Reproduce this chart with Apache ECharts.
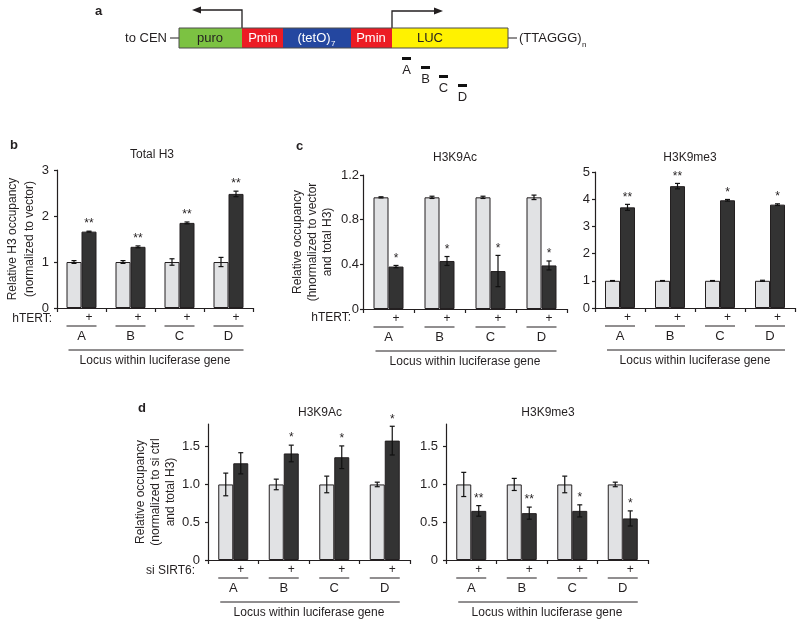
<!DOCTYPE html>
<html><head><meta charset="utf-8">
<script src="https://cdn.jsdelivr.net/npm/echarts@6/dist/echarts.min.js"></script>
<style>html,body{margin:0;padding:0;background:#fff}#c{width:800px;height:624px}</style>
</head><body><div id="c"></div><script>
// ---------- DATA ----------
const loci = ['A', 'B', 'C', 'D'];
// b: Total H3 (vector vs +hTERT)
const bCtrl = [1, 1, 1, 1];
const bCtrlErr = [0.03, 0.03, 0.07, 0.1];
const bTert = [1.66, 1.33, 1.85, 2.48];
const bTertErr = [0.01, 0.02, 0.02, 0.06];
const bSig = ['**', '**', '**', '**'];
// c: H3K9Ac
const cAcCtrl = [1, 1, 1, 1];
const cAcCtrlErr = [0.005, 0.01, 0.01, 0.02];
const cAcTert = [0.38, 0.43, 0.34, 0.39];
const cAcTertErr = [0.01, 0.04, 0.14, 0.04];
const cAcSig = ['*', '*', '*', '*'];
// c: H3K9me3
const cMeCtrl = [1, 1, 1, 1];
const cMeCtrlErr = [0.01, 0.01, 0.01, 0.02];
const cMeTert = [3.7, 4.48, 3.96, 3.8];
const cMeTertErr = [0.11, 0.1, 0.03, 0.03];
const cMeSig = ['**', '**', '*', '*'];
// d: H3K9Ac (si ctrl vs si SIRT6)
const dAcCtrl = [1, 1, 1, 1];
const dAcCtrlErr = [0.15, 0.07, 0.11, 0.03];
const dAcSi = [1.28, 1.41, 1.36, 1.58];
const dAcSiErr = [0.14, 0.11, 0.15, 0.19];
const dAcSig = ['', '*', '*', '*'];
// d: H3K9me3
const dMeCtrl = [1, 1, 1, 1];
const dMeCtrlErr = [0.16, 0.08, 0.11, 0.03];
const dMeSi = [0.65, 0.62, 0.65, 0.55];
const dMeSiErr = [0.07, 0.08, 0.08, 0.1];
const dMeSig = ['**', '**', '*', '*'];
// tick labels
const bTicks = [0, 1, 2, 3];
const cAcTicks = [0, 0.4, 0.8, 1.2];
const cMeTicks = [0, 1, 2, 3, 4, 5];
const dTicks = [0, 0.5, 1, 1.5];

// ---------- STYLE / LAYOUT ----------
const FONT = "'Liberation Sans', Arial, Helvetica, sans-serif";
const TXT = '#231f20';
const LIGHT = '#e1e2e4', DARK = '#333333', EDGE = '#231f20';
const HALF = 7.5;

const panels = [
  {title: 'Total H3', tx: 152, ty: 155, grid: {left: 57, top: 170, width: 196, height: 138},
   max: 3, ticks: bTicks, dec: 0, margin: 8,
   ctrl: bCtrl, ctrlErr: bCtrlErr, trt: bTert, trtErr: bTertErr, sig: bSig,
   yName: 'Relative H3 occupancy\n(normalized to vector)', nameGap: 19, lh: 17},
  {title: 'H3K9Ac', tx: 455, ty: 158, grid: {left: 363, top: 175, width: 204, height: 134},
   max: 1.2, ticks: cAcTicks, dec: 1, margin: 4,
   ctrl: cAcCtrl, ctrlErr: cAcCtrlErr, trt: cAcTert, trtErr: cAcTertErr, sig: cAcSig,
   yName: 'Relative occupancy\n(hnormalized to vector\nand total H3)', nameGap: 28, lh: 15},
  {title: 'H3K9me3', tx: 690, ty: 158, grid: {left: 595, top: 172, width: 200, height: 136},
   max: 5, ticks: cMeTicks, dec: 0, margin: 5,
   ctrl: cMeCtrl, ctrlErr: cMeCtrlErr, trt: cMeTert, trtErr: cMeTertErr, sig: cMeSig,
   yName: '', nameGap: 0, lh: 14},
  {title: 'H3K9Ac', tx: 320, ty: 413, grid: {left: 208, top: 424, width: 202, height: 136},
   max: 1.8, ticks: dTicks, dec: 1, margin: 8,
   ctrl: dAcCtrl, ctrlErr: dAcCtrlErr, trt: dAcSi, trtErr: dAcSiErr, sig: dAcSig,
   yName: 'Relative occupancy\n(normalized to si ctrl\nand total H3)', nameGap: 28, lh: 15},
  {title: 'H3K9me3', tx: 548, ty: 413, grid: {left: 446, top: 424, width: 202, height: 136},
   max: 1.8, ticks: dTicks, dec: 1, margin: 8,
   ctrl: dMeCtrl, ctrlErr: dMeCtrlErr, trt: dMeSi, trtErr: dMeSiErr, sig: dMeSig,
   yName: '', nameGap: 0, lh: 14}
];

function txt(text, x, y, size, align, vAlign, extra) {
  return Object.assign({type: 'text', style: {text: text, x: x, y: y, fontSize: size, fontFamily: FONT,
    fill: TXT, align: align, verticalAlign: vAlign, textAlign: align, textVerticalAlign: vAlign}}, extra || {});
}

function errItem(offset, sig) {
  return function (params, api) {
    const i = api.value(0), v = api.value(1), e = api.value(2);
    const x = api.coord([i, v])[0] + offset;
    const top = api.coord([i, v + e])[1];
    const bot = api.coord([i, v - e])[1];
    const st = {stroke: '#111', lineWidth: 1.2};
    const ch = [
      {type: 'line', shape: {x1: x, y1: top, x2: x, y2: bot}, style: st},
      {type: 'line', shape: {x1: x - 2.5, y1: top, x2: x + 2.5, y2: top}, style: st},
      {type: 'line', shape: {x1: x - 2.5, y1: bot, x2: x + 2.5, y2: bot}, style: st}
    ];
    if (sig && sig[i]) ch.push(txt(sig[i], x, top - 7, 12, 'center', 'middle'));
    return {type: 'group', children: ch};
  };
}

function annotItem() {
  return function (params, api) {
    const i = api.value(0);
    const c = api.coord([i, 0]);
    const ch = [
      txt('+', c[0] + HALF, c[1] + 10, 12, 'center', 'middle'),
      {type: 'line', shape: {x1: c[0] - 15, y1: c[1] + 18, x2: c[0] + 15, y2: c[1] + 18}, style: {stroke: TXT, lineWidth: 1}},
      txt(loci[i], c[0], c[1] + 28, 13, 'center', 'middle')
    ];
    if (i === 0) {
      const last = api.coord([loci.length - 1, 0]);
      ch.push({type: 'line', shape: {x1: c[0] - 13, y1: c[1] + 42, x2: last[0] + 15, y2: c[1] + 42}, style: {stroke: TXT, lineWidth: 1}});
      ch.push(txt('Locus within luciferase gene', (c[0] + last[0]) / 2, c[1] + 53, 12, 'center', 'middle'));
    }
    return {type: 'group', children: ch};
  };
}

const grids = [], xAxes = [], yAxes = [], series = [], graphics = [];
panels.forEach(function (p, k) {
  grids.push(Object.assign({containLabel: false}, p.grid));
  xAxes.push({type: 'category', gridIndex: k, data: loci,
    axisLine: {lineStyle: {color: EDGE, width: 1.2}},
    axisTick: {show: true, length: 4, lineStyle: {color: EDGE, width: 1.2}},
    axisLabel: {show: false}, splitLine: {show: false}});
  yAxes.push({type: 'value', gridIndex: k, min: 0, max: p.max, interval: p.ticks[1] - p.ticks[0],
    axisLine: {show: true, lineStyle: {color: EDGE, width: 1.2}},
    axisTick: {show: true, length: 3, lineStyle: {color: EDGE, width: 1.2}, customValues: p.ticks},
    axisLabel: {show: true, margin: p.margin, fontSize: 13, fontFamily: FONT, color: TXT, customValues: p.ticks,
      formatter: function (v) { return v === 0 ? '0' : v.toFixed(p.dec); }},
    splitLine: {show: false},
    name: p.yName, nameLocation: 'middle', nameRotate: 90, nameGap: p.nameGap,
    nameTextStyle: {fontSize: 12, fontFamily: FONT, color: TXT, lineHeight: p.lh}});
  const common = {xAxisIndex: k, yAxisIndex: k, silent: true, animation: false};
  series.push(Object.assign({type: 'bar', data: p.ctrl, barWidth: 15, barGap: '0%',
    itemStyle: {color: LIGHT, borderColor: EDGE, borderWidth: 1}}, common));
  series.push(Object.assign({type: 'bar', data: p.trt, barWidth: 15, barGap: '0%',
    itemStyle: {color: DARK, borderColor: EDGE, borderWidth: 1}}, common));
  series.push(Object.assign({type: 'custom', z: 5, clip: false, encode: {x: 0, y: 1},
    data: p.ctrl.map(function (v, i) { return [i, v, p.ctrlErr[i]]; }), renderItem: errItem(-HALF, null)}, common));
  series.push(Object.assign({type: 'custom', z: 5, clip: false, encode: {x: 0, y: 1},
    data: p.trt.map(function (v, i) { return [i, v, p.trtErr[i]]; }), renderItem: errItem(HALF, p.sig)}, common));
  series.push(Object.assign({type: 'custom', z: 5, clip: false, encode: {x: 0, y: 1},
    data: loci.map(function (l, i) { return [i, 0]; }), renderItem: annotItem()}, common));
  graphics.push(txt(p.title, p.tx, p.ty, 12, 'center', 'middle'));
});

// panel letters and treatment labels
graphics.push({type: 'text', style: {text: 'a', x: 95, y: 11, font: 'bold 13px ' + FONT, fill: TXT, align: 'left', verticalAlign: 'middle'}});
graphics.push({type: 'text', style: {text: 'b', x: 10, y: 145, font: 'bold 13px ' + FONT, fill: TXT, align: 'left', verticalAlign: 'middle'}});
graphics.push({type: 'text', style: {text: 'c', x: 296, y: 146, font: 'bold 13px ' + FONT, fill: TXT, align: 'left', verticalAlign: 'middle'}});
graphics.push({type: 'text', style: {text: 'd', x: 138, y: 408, font: 'bold 13px ' + FONT, fill: TXT, align: 'left', verticalAlign: 'middle'}});
graphics.push(txt('hTERT:', 52, 319, 12, 'right', 'middle'));
graphics.push(txt('hTERT:', 351, 318, 12, 'right', 'middle'));
graphics.push(txt('si SIRT6:', 195, 571, 12, 'right', 'middle'));

// ---------- panel a schematic ----------
const segs = [
  {t: 'puro', x0: 179, x1: 242, fill: '#7cc242', c: TXT, tx: 210},
  {t: 'Pmin', x0: 242, x1: 283, fill: '#ec1c24', c: '#ffffff', tx: 263},
  {t: '(tetO)', x0: 283, x1: 351, fill: '#2447a0', c: '#ffffff', tx: 314, sub: '7'},
  {t: 'Pmin', x0: 351, x1: 392, fill: '#ec1c24', c: '#ffffff', tx: 371},
  {t: 'LUC', x0: 392, x1: 508, fill: '#fff200', c: TXT, tx: 430}
];
const BY0 = 28, BY1 = 48;
segs.forEach(function (s) {
  graphics.push({type: 'rect', shape: {x: s.x0, y: BY0, width: s.x1 - s.x0, height: BY1 - BY0}, style: {fill: s.fill}});
  graphics.push({type: 'text', z: 10, style: {text: s.t, x: s.tx, y: 38.5, fontSize: 13, fontFamily: FONT, fill: s.c, align: 'center', verticalAlign: 'middle'}});
  if (s.sub) graphics.push({type: 'text', z: 10, style: {text: s.sub, x: s.tx + 17, y: 44, fontSize: 8, fontFamily: FONT, fill: s.c, align: 'left', verticalAlign: 'middle'}});
});
graphics.push({type: 'rect', z: 9, shape: {x: 179, y: BY0, width: 329, height: BY1 - BY0}, style: {fill: 'none', stroke: '#4d4d4d', lineWidth: 1}});
graphics.push({type: 'line', shape: {x1: 170, y1: 38, x2: 179, y2: 38}, style: {stroke: TXT, lineWidth: 1}});
graphics.push({type: 'line', shape: {x1: 508, y1: 38, x2: 517, y2: 38}, style: {stroke: TXT, lineWidth: 1}});
graphics.push(txt('to CEN', 167, 38.5, 13, 'right', 'middle'));
graphics.push(txt('(TTAGGG)', 519, 38.5, 13, 'left', 'middle'));
graphics.push(txt('n', 582, 45, 8, 'left', 'middle'));
// promoter arrows
graphics.push({type: 'polyline', shape: {points: [[242, BY0], [242, 10], [199, 10]]}, style: {stroke: TXT, lineWidth: 1.3, fill: 'none'}});
graphics.push({type: 'polygon', shape: {points: [[192, 10], [201, 6.5], [201, 13.5]]}, style: {fill: TXT}});
graphics.push({type: 'polyline', shape: {points: [[392, BY0], [392, 11], [435, 11]]}, style: {stroke: TXT, lineWidth: 1.3, fill: 'none'}});
graphics.push({type: 'polygon', shape: {points: [[443, 11], [434, 7.5], [434, 14.5]]}, style: {fill: TXT}});
// amplicons
const amp = [{l: 'A', x: 402, y: 57}, {l: 'B', x: 421, y: 66}, {l: 'C', x: 439, y: 75}, {l: 'D', x: 458, y: 84}];
amp.forEach(function (a) {
  graphics.push({type: 'rect', shape: {x: a.x, y: a.y, width: 9, height: 3}, style: {fill: '#111'}});
  graphics.push(txt(a.l, a.x + 4.5, a.y + 13, 13, 'center', 'middle'));
});

const chart = echarts.init(document.getElementById('c'), null, {renderer: 'canvas'});
chart.setOption({
  animation: false, backgroundColor: '#ffffff',
  grid: grids, xAxis: xAxes, yAxis: yAxes, series: series, graphic: graphics
});
</script></body></html>
